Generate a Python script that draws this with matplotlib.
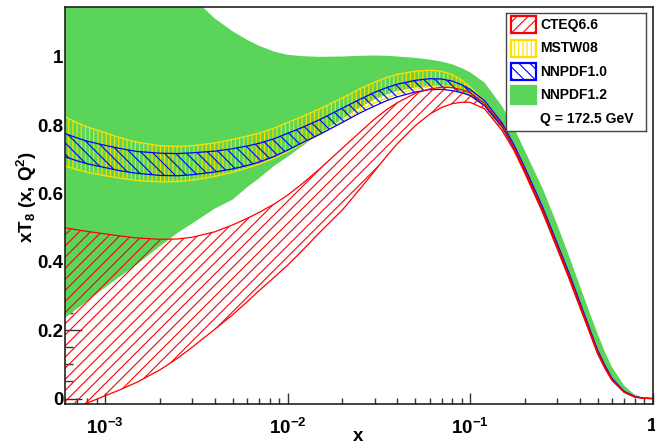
import numpy as np
import matplotlib
matplotlib.use('Agg')
import matplotlib.pyplot as plt
from matplotlib.patches import Rectangle
from matplotlib.ticker import LogLocator, NullFormatter, MultipleLocator

plt.rcParams['font.family'] = ['Liberation Sans', 'DejaVu Sans']
plt.rcParams['font.weight'] = 'bold'
plt.rcParams['mathtext.fontset'] = 'custom'
plt.rcParams['mathtext.rm'] = 'Liberation Sans:bold'
plt.rcParams['mathtext.it'] = 'Liberation Sans:bold'
plt.rcParams['mathtext.bf'] = 'Liberation Sans:bold'
plt.rcParams['hatch.linewidth'] = 0.8

# x grid shared by all PDF sets
x = [6e-4, 7e-4, 8e-4, 1e-3, 1.2e-3, 1.5e-3, 2e-3, 2.5e-3, 3e-3, 4e-3,
     5e-3, 6e-3, 7e-3, 8.5e-3, 1e-2, 1.2e-2, 1.5e-2, 2e-2, 2.5e-2, 3e-2,
     3.5e-2, 4e-2, 5e-2, 6e-2, 7e-2, 8e-2, 9e-2, 0.1, 0.12, 0.15,
     0.175, 0.2, 0.25, 0.3, 0.35, 0.4, 0.45, 0.5, 0.55, 0.6,
     0.7, 0.8, 0.9, 1.0]

# xT8 one-sigma bands, upper / lower edges
cteq_hi = [0.500, 0.494, 0.489, 0.482, 0.476, 0.470, 0.466, 0.467, 0.472, 0.488,
           0.508, 0.527, 0.545, 0.570, 0.595, 0.628, 0.672, 0.733, 0.780, 0.818,
           0.846, 0.866, 0.893, 0.906, 0.911, 0.910, 0.904, 0.895, 0.864, 0.800,
           0.733, 0.668, 0.553, 0.448, 0.358, 0.275, 0.202, 0.137, 0.091, 0.056,
           0.019, 0.005, 0.001, 0.0]
cteq_lo = [-0.050, -0.030, -0.013, 0.008, 0.025, 0.048, 0.084, 0.118, 0.150, 0.203,
           0.245, 0.283, 0.316, 0.356, 0.390, 0.432, 0.486, 0.552, 0.614, 0.666,
           0.710, 0.746, 0.798, 0.832, 0.852, 0.863, 0.867, 0.867, 0.848, 0.784,
           0.724, 0.659, 0.544, 0.439, 0.349, 0.267, 0.196, 0.131, 0.087, 0.053,
           0.018, 0.004, 0.0005, 0.0]

mstw_hi = [0.825, 0.808, 0.795, 0.778, 0.764, 0.750, 0.740, 0.738, 0.740, 0.748,
           0.758, 0.768, 0.777, 0.792, 0.808, 0.825, 0.848, 0.880, 0.907, 0.926,
           0.940, 0.949, 0.958, 0.961, 0.958, 0.948, 0.932, 0.912, 0.872, 0.803,
           0.736, 0.671, 0.556, 0.451, 0.361, 0.278, 0.205, 0.139, 0.093, 0.057,
           0.020, 0.005, 0.001, 0.0]
mstw_lo = [0.681, 0.670, 0.662, 0.652, 0.645, 0.638, 0.634, 0.635, 0.639, 0.650,
           0.662, 0.674, 0.686, 0.704, 0.722, 0.745, 0.772, 0.812, 0.842, 0.865,
           0.880, 0.891, 0.905, 0.913, 0.916, 0.913, 0.905, 0.893, 0.860, 0.792,
           0.726, 0.661, 0.546, 0.441, 0.351, 0.268, 0.197, 0.132, 0.088, 0.054,
           0.018, 0.004, 0.001, 0.0]

nn10_hi = [0.776, 0.763, 0.753, 0.741, 0.732, 0.723, 0.718, 0.717, 0.719, 0.724,
           0.731, 0.739, 0.747, 0.761, 0.776, 0.793, 0.816, 0.850, 0.876, 0.896,
           0.910, 0.920, 0.931, 0.936, 0.935, 0.929, 0.918, 0.905, 0.872, 0.806,
           0.740, 0.675, 0.560, 0.455, 0.365, 0.282, 0.208, 0.142, 0.096, 0.059,
           0.021, 0.006, 0.001, 0.0]
nn10_lo = [0.708, 0.696, 0.687, 0.676, 0.667, 0.659, 0.653, 0.652, 0.655, 0.663,
           0.672, 0.682, 0.692, 0.709, 0.727, 0.748, 0.773, 0.808, 0.836, 0.856,
           0.872, 0.883, 0.897, 0.904, 0.905, 0.901, 0.895, 0.887, 0.858, 0.795,
           0.730, 0.665, 0.550, 0.445, 0.355, 0.272, 0.200, 0.135, 0.090, 0.055,
           0.019, 0.005, 0.001, 0.0]

nn12_hi = [1.550, 1.510, 1.480, 1.430, 1.390, 1.340, 1.270, 1.220, 1.175, 1.112,
           1.075, 1.050, 1.032, 1.015, 1.006, 1.002, 1.000, 1.001, 1.003, 1.004,
           1.003, 1.001, 0.997, 0.992, 0.986, 0.978, 0.967, 0.955, 0.925, 0.855,
           0.790, 0.725, 0.615, 0.510, 0.415, 0.330, 0.255, 0.190, 0.135, 0.092,
           0.038, 0.011, 0.002, 0.0]
nn12_lo = [0.235, 0.262, 0.285, 0.325, 0.356, 0.393, 0.446, 0.485, 0.512, 0.556,
           0.582, 0.618, 0.645, 0.682, 0.707, 0.738, 0.775, 0.818, 0.852, 0.875,
           0.890, 0.900, 0.910, 0.914, 0.913, 0.907, 0.897, 0.885, 0.853, 0.785,
           0.722, 0.657, 0.542, 0.437, 0.347, 0.264, 0.193, 0.128, 0.085, 0.051,
           0.017, 0.004, 0.0005, 0.0]

GREEN = '#5ad55a'
YELLOW = '#ffe100'
BLUE = '#0000ff'
RED = '#ff0000'

fig = plt.figure(figsize=(6.55, 4.44), dpi=100)
ax = fig.add_axes([0.0985, 0.0908, 0.8977, 0.8928])

# NNPDF1.2: solid band
ax.fill_between(x, nn12_lo, nn12_hi, facecolor=GREEN, edgecolor='none', linewidth=0, zorder=1)

# hatched bands with their outlines
bands = [(mstw_lo, mstw_hi, YELLOW, '||||'),
         (nn10_lo, nn10_hi, BLUE, '\\\\\\'),
         (cteq_lo, cteq_hi, RED, '///')]
for z, (lo, hi, col, hatch) in enumerate(bands):
    ax.fill_between(x, lo, hi, facecolor='none', edgecolor=col, hatch=hatch,
                    linewidth=0, zorder=2 + z)
    ax.plot(x, hi, color=col, lw=0.9, zorder=2 + z)
    ax.plot(x, lo, color=col, lw=0.9, zorder=2 + z)

ax.set_xscale('log')
ax.set_xlim(6e-4, 1.0)
ax.set_ylim(-0.015, 1.145)
ax.set_axisbelow(True)

ax.set_xticks([1e-3, 1e-2, 1e-1, 1])
ax.set_xticklabels([r'$10^{-3}$', r'$10^{-2}$', r'$10^{-1}$', '1'])
ax.xaxis.set_minor_locator(LogLocator(base=10, subs=np.arange(2, 10)))
ax.xaxis.set_minor_formatter(NullFormatter())
ax.set_yticks([0, 0.2, 0.4, 0.6, 0.8, 1.0])
ax.set_yticklabels(['0', '0.2', '0.4', '0.6', '0.8', '1'])
ax.yaxis.set_minor_locator(MultipleLocator(0.05))

ax.tick_params(axis='both', which='both', direction='in', colors='#333333',
               labelcolor='black', labelsize=13.5, top=False, right=False)
ax.tick_params(axis='x', which='major', length=8, width=1, pad=10)
ax.tick_params(axis='x', which='minor', length=4, width=1)
ax.tick_params(axis='y', which='major', length=12, width=1, pad=1)
ax.tick_params(axis='y', which='minor', length=6, width=1)
for s in ax.spines.values():
    s.set_linewidth(1.2)
    s.set_color('#222222')
    s.set_zorder(10)

ax.set_xlabel('x', fontsize=13.5, fontweight='bold', labelpad=-7)
ax.set_ylabel(r'xT$_{8}$ (x, Q$^{2}$)', fontsize=13.5, fontweight='bold',
              ha='center', va='center')
ax.yaxis.set_label_coords(-0.064, 0.521)

# legend box
lg = fig.add_axes([0.772, 0.7056, 0.2137, 0.2658])
lg.set_xlim(0, 140)
lg.set_ylim(118, 0)
lg.set_xticks([])
lg.set_yticks([])
for s in lg.spines.values():
    s.set_linewidth(1.0)
    s.set_color('#444444')

entries = [('CTEQ6.6', RED, 'none', '///'),
           ('MSTW08', YELLOW, 'none', '||||'),
           ('NNPDF1.0', BLUE, 'none', '\\\\\\'),
           ('NNPDF1.2', GREEN, GREEN, None)]
for i, (name, col, face, hatch) in enumerate(entries):
    yc = 12 + 23.4 * i
    lg.add_patch(Rectangle((5, yc - 8.6), 25, 17.2, facecolor=face, edgecolor=col,
                           hatch=hatch, linewidth=1.6))
    lg.text(34.5, yc, name, fontsize=10, fontweight='bold', va='center', ha='left')
lg.text(34.5, 106, 'Q = 172.5 GeV', fontsize=10, fontweight='bold', va='center', ha='left')

fig.savefig('out.png', dpi=100)
